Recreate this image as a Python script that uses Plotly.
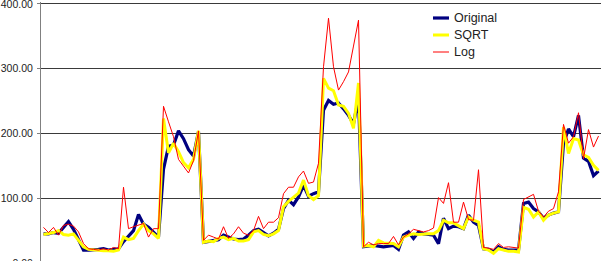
import plotly.graph_objects as go

categories = list(range(1, 113))

original = [45, 45, 47, 46, 55, 64, 52, 35, 20, 20, 20, 21, 22, 20, 21, 22,
            33, 42, 50, 75, 60, 55, 48, 40, 145, 180, 182, 204, 192, 175, 165, 203,
            32, 33, 34, 36, 43, 40, 37, 36, 37, 43, 50, 52, 47, 42, 46, 52,
            84, 97, 90, 102, 120, 103, 107, 110, 236, 251, 245, 247, 238, 228, 215, 255,
            25, 26, 27, 26, 25, 26, 27, 21, 43, 48, 38, 48, 45, 44, 43, 30,
            69, 53, 57, 56, 53, 74, 63, 58, 22, 21, 17, 25, 21, 20, 20, 20,
            92, 94, 84, 79, 69, 74, 77, 79, 185, 207, 195, 228, 162, 157, 135, 142]

sqrt_vals = [44, 45, 47, 50, 44, 43, 45, 35, 25, 21, 20, 20, 19, 19, 18, 20,
             40, 36, 38, 50, 60, 50, 45, 38, 223, 170, 185, 172, 155, 147, 160, 204,
             32, 34, 33, 38, 40, 36, 38, 34, 34, 36, 48, 50, 44, 42, 45, 50,
             87, 95, 102, 108, 128, 104, 98, 104, 285, 270, 266, 244, 242, 231, 208, 278,
             26, 27, 25, 35, 31, 31, 30, 25, 40, 43, 45, 44, 45, 45, 45, 50,
             66, 62, 62, 58, 53, 71, 66, 63, 22, 20, 15, 22, 20, 18, 18, 17,
             86, 83, 71, 79, 66, 74, 77, 79, 210, 169, 192, 190, 167, 163, 151, 143]

log_vals = [55, 47, 55, 43, 58, 60, 57, 48, 30, 22, 21, 20, 22, 20, 24, 22,
            117, 53, 56, 58, 61, 40, 53, 53, 242, 218, 195, 160, 150, 139, 158, 204,
            35, 43, 40, 37, 56, 38, 45, 56, 46, 43, 50, 72, 53, 63, 63, 70,
            107, 117, 117, 133, 142, 123, 125, 154, 303, 378, 303, 267, 280, 295, 335, 375,
            25, 32, 28, 30, 30, 30, 41, 28, 40, 45, 52, 50, 48, 50, 54, 101,
            92, 124, 63, 63, 94, 67, 66, 144, 24, 23, 21, 30, 24, 25, 24, 23,
            98, 102, 106, 80, 71, 80, 84, 110, 214, 185, 195, 232, 161, 206, 179, 196]

series_names = ["Original", "SQRT", "Log"]
series_colors = ["#000080", "#FFFF00", "#FF0000"]
series_widths = [3.2, 3, 1]
y_ticks = [0, 100, 200, 300, 400]

W, H = 606, 275
ML, MR, MT, MB = 41, 5, 2, 12

fig = go.Figure()
for name, vals, col, w in zip(series_names, [original, sqrt_vals, log_vals],
                              series_colors, series_widths):
    fig.add_trace(go.Scatter(x=categories, y=vals, mode="lines", name=name,
                             line=dict(color=col, width=w), showlegend=False))

# custom legend (paper coordinates)
pw = W - ML - MR
ph = H - MT - MB
def px_x(p):
    return (p - ML) / pw
def px_y(p):
    return (H - MB - p) / ph

leg_y = [18, 35, 52]
for name, col, w, yy in zip(series_names, series_colors, series_widths, leg_y):
    fig.add_shape(type="line", xref="paper", yref="paper",
                  x0=px_x(433), x1=px_x(449), y0=px_y(yy), y1=px_y(yy),
                  line=dict(color=col, width=w))
    fig.add_annotation(xref="paper", yref="paper", x=px_x(452), y=px_y(yy),
                       text=name, showarrow=False, xanchor="left", yanchor="middle",
                       font=dict(family="Arial, Liberation Sans", size=12.5, color="#222"))

fig.update_layout(
    width=W, height=H,
    margin=dict(l=ML, r=MR, t=MT, b=MB),
    paper_bgcolor="white", plot_bgcolor="white",
    font=dict(family="Arial, Liberation Sans", size=10.5, color="#222"),
)
fig.update_xaxes(range=[0.5, 112.5], showgrid=False, showticklabels=False,
                 ticks="", showline=False, zeroline=False, automargin=False)
fig.update_yaxes(range=[0, 403], tickvals=y_ticks, tickformat=".2f",
                 showgrid=True, gridcolor="#3a3a3a", gridwidth=1,
                 ticks="outside", ticklen=3, tickcolor="#808080",
                 ticklabelstandoff=2, ticklabeloverflow="allow",
                 automargin=False,
                 showline=True, linecolor="#808080", linewidth=1,
                 zeroline=False)

fig.write_html("out.html",
               post_script="document.documentElement.style.overflow='hidden';"
                           "document.body.style.overflow='hidden';"
                           "document.body.style.margin='0';")
